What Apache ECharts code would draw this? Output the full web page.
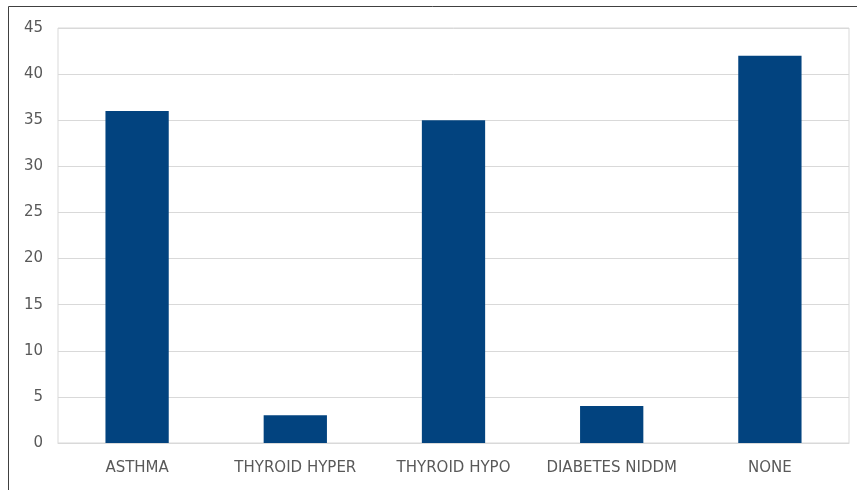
<!DOCTYPE html>
<html>
<head>
<meta charset="utf-8">
<style>
  html, body { margin: 0; padding: 0; background: #fff; }
  #chart { width: 857px; height: 490px; }
</style>
<script src="https://cdn.jsdelivr.net/npm/echarts@6/dist/echarts.min.js"></script>
</head>
<body>
<div id="chart"></div>
<script>
// Co-morbidity counts
const categories = ['ASTHMA', 'THYROID HYPER', 'THYROID HYPO', 'DIABETES NIDDM', 'NONE'];
const counts = [36, 3, 35, 4, 42];
const yTicks = { min: 0, max: 45, interval: 5 };

const labelFont = { color: '#595959', fontFamily: 'DejaVu Sans, sans-serif', fontSize: 15 };

const chart = echarts.init(document.getElementById('chart'), null, { renderer: 'canvas' });
chart.setOption({
  animation: false,
  backgroundColor: '#fff',
  graphic: [
    { type: 'line', shape: { x1: 8.5, y1: 6.5, x2: 857, y2: 6.5 }, style: { stroke: '#404040', lineWidth: 1 } },
    { type: 'line', shape: { x1: 8.5, y1: 6.5, x2: 8.5, y2: 490 }, style: { stroke: '#404040', lineWidth: 1 } }
  ],
  grid: {
    left: 58, right: 8, top: 28, bottom: 47,
    show: true, borderColor: '#d9d9d9', borderWidth: 1
  },
  xAxis: {
    type: 'category',
    data: categories,
    axisLine: { show: true, lineStyle: { color: '#d9d9d9' } },
    axisTick: { show: false },
    axisLabel: Object.assign({ margin: 18, interval: 0, hideOverlap: false }, labelFont)
  },
  yAxis: {
    type: 'value',
    min: yTicks.min, max: yTicks.max, interval: yTicks.interval,
    axisLine: { show: false },
    axisTick: { show: false },
    splitLine: { lineStyle: { color: '#d9d9d9', width: 1 } },
    axisLabel: Object.assign({ margin: 15 }, labelFont)
  },
  series: [{
    type: 'bar',
    data: counts,
    barWidth: '40%',
    itemStyle: { color: '#02437f' }
  }]
});
</script>
</body>
</html>
